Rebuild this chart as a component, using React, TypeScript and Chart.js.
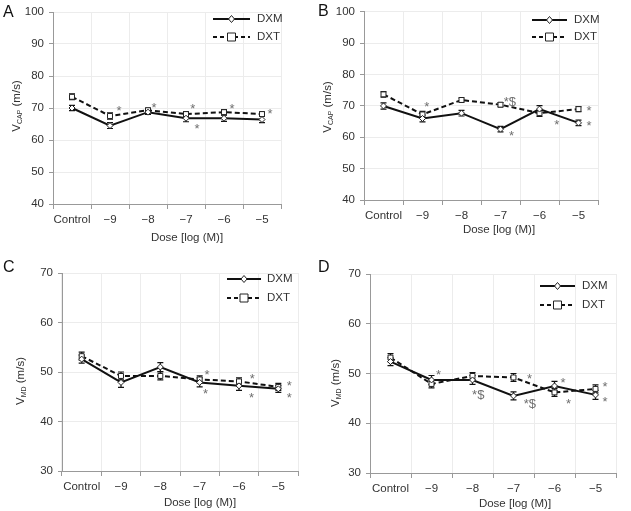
import React, { useEffect, useRef } from "react";
import { Chart, registerables } from "chart.js";

Chart.register(...registerables);

// ---------- DATA ----------
const categories = ["Control", "\u22129", "\u22128", "\u22127", "\u22126", "\u22125"];
const seriesNames = ["DXM", "DXT"];

const dxmA = [70.0, 64.5, 68.7, 66.8, 66.8, 66.4];
const dxtA = [73.5, 67.5, 69.3, 68.1, 68.7, 68.1];
const dxmErrA = [0.8, 0.9, 0.7, 1.1, 1.0, 1.0];
const dxtErrA = [0.9, 1.0, 0.7, 0.8, 0.8, 0.7];

const dxmB = [70.0, 66.0, 67.7, 62.6, 69.0, 64.6];
const dxtB = [73.7, 67.3, 71.9, 70.4, 67.7, 69.0];
const dxmErrB = [1.0, 1.1, 0.9, 0.9, 1.1, 0.9];
const dxtErrB = [0.9, 1.0, 0.7, 0.7, 1.0, 0.8];

const dxmC = [52.6, 47.9, 51.0, 47.9, 47.2, 46.6];
const dxtC = [53.2, 49.2, 49.2, 48.5, 48.1, 47.0];
const dxmErrC = [0.8, 1.0, 0.9, 0.9, 0.9, 0.7];
const dxtErrC = [0.8, 0.8, 0.8, 0.7, 0.7, 0.7];

const dxmD = [52.4, 48.7, 48.7, 45.5, 47.5, 45.7];
const dxtD = [53.2, 47.9, 49.5, 49.2, 46.2, 46.9];
const dxmErrD = [0.8, 0.9, 0.9, 0.8, 0.9, 0.9];
const dxtErrD = [0.8, 0.8, 0.7, 0.8, 0.8, 0.8];

// significance marks: x = category index (fractional), y = value
const marksA = [
  { x: 1.24, y: 70.0, t: "*" },
  { x: 2.16, y: 70.9, t: "*" },
  { x: 3.18, y: 70.6, t: "*" },
  { x: 3.29, y: 64.1, t: "*" },
  { x: 4.21, y: 70.6, t: "*" },
  { x: 5.21, y: 68.8, t: "*" },
];
const marksB = [
  { x: 1.11, y: 70.4, t: "*" },
  { x: 3.24, y: 72.0, t: "*$" },
  { x: 3.28, y: 61.3, t: "*" },
  { x: 4.44, y: 64.8, t: "*" },
  { x: 5.27, y: 69.05, t: "*" },
  { x: 5.27, y: 64.5, t: "*" },
];
const marksC = [
  { x: 3.19, y: 50.0, t: "*" },
  { x: 3.15, y: 46.0, t: "*" },
  { x: 4.34, y: 49.0, t: "*" },
  { x: 4.32, y: 45.3, t: "*" },
  { x: 5.28, y: 47.7, t: "*" },
  { x: 5.28, y: 45.2, t: "*" },
];
const marksD = [
  { x: 1.17, y: 50.2, t: "*" },
  { x: 2.14, y: 46.1, t: "*$" },
  { x: 3.39, y: 49.3, t: "*" },
  { x: 3.4, y: 44.3, t: "*$" },
  { x: 4.21, y: 48.5, t: "*" },
  { x: 4.34, y: 44.3, t: "*" },
  { x: 5.23, y: 47.7, t: "*" },
  { x: 5.23, y: 44.8, t: "*" },
];

const yTicksTop = [40, 100];
const yTicksBottom = [30, 70];

// ---------- LAYOUT ----------
const FONT = "'Liberation Sans', Arial, sans-serif";
const TEXT = "#333333";

type Mark = { x: number; y: number; t: string };
type PanelCfg = {
  letter: string;
  left: number;
  top: number;
  w: number;
  h: number;
  area: { l: number; t: number; r: number; b: number };
  range: number[];
  sub: string;
  dxm: number[];
  dxt: number[];
  dxmErr: number[];
  dxtErr: number[];
  marks: Mark[];
  letterPos: [number, number];
  legend: { x1: number; x2: number; y1: number; y2: number; tx: number };
  xTitle: [number, number];
  yTitle: [number, number];
};

const panels: PanelCfg[] = [
  {
    letter: "A", left: 0, top: 0, w: 315, h: 250,
    area: { l: 53, t: 12, r: 281, b: 204 }, range: yTicksTop, sub: "CAP",
    dxm: dxmA, dxt: dxtA, dxmErr: dxmErrA, dxtErr: dxtErrA, marks: marksA,
    letterPos: [3, 17], legend: { x1: 213, x2: 250, y1: 19, y2: 37, tx: 257 },
    xTitle: [187, 238], yTitle: [16, 106],
  },
  {
    letter: "B", left: 315, top: 0, w: 316, h: 250,
    area: { l: 49, t: 11, r: 283, b: 200 }, range: yTicksTop, sub: "CAP",
    dxm: dxmB, dxt: dxtB, dxmErr: dxmErrB, dxtErr: dxtErrB, marks: marksB,
    letterPos: [3, 16], legend: { x1: 217, x2: 252, y1: 20, y2: 37, tx: 259 },
    xTitle: [184, 230], yTitle: [12, 107],
  },
  {
    letter: "C", left: 0, top: 250, w: 315, h: 261,
    area: { l: 62, t: 23, r: 298, b: 221 }, range: yTicksBottom, sub: "MD",
    dxm: dxmC, dxt: dxtC, dxmErr: dxmErrC, dxtErr: dxtErrC, marks: marksC,
    letterPos: [3, 22], legend: { x1: 227, x2: 261, y1: 29, y2: 48, tx: 267 },
    xTitle: [200, 253], yTitle: [20, 131],
  },
  {
    letter: "D", left: 315, top: 250, w: 316, h: 261,
    area: { l: 55, t: 24, r: 301, b: 223 }, range: yTicksBottom, sub: "MD",
    dxm: dxmD, dxt: dxtD, dxmErr: dxmErrD, dxtErr: dxtErrD, marks: marksD,
    letterPos: [3, 22], legend: { x1: 225, x2: 260, y1: 36, y2: 55, tx: 267 },
    xTitle: [200, 254], yTitle: [20, 133],
  },
];

function drawMarker(ctx: CanvasRenderingContext2D, kind: string, x: number, y: number) {
  ctx.save();
  ctx.fillStyle = "#fff";
  ctx.strokeStyle = "#222";
  ctx.lineWidth = 1;
  ctx.setLineDash([]);
  ctx.beginPath();
  if (kind === "diamond") {
    ctx.moveTo(x, y - 3.5);
    ctx.lineTo(x + 3, y);
    ctx.lineTo(x, y + 3.5);
    ctx.lineTo(x - 3, y);
    ctx.closePath();
  } else {
    ctx.rect(x - 4, y - 4, 8, 8);
  }
  ctx.fill();
  ctx.stroke();
  ctx.restore();
}

function Panel({ cfg }: { cfg: PanelCfg }) {
  const ref = useRef<HTMLCanvasElement | null>(null);
  useEffect(() => {
    const canvas = ref.current;
    if (!canvas) return;
    const errs = [cfg.dxmErr, cfg.dxtErr];

    const deco = {
      id: "deco",
      beforeDatasetsDraw(chart: any) {
        const ctx = chart.ctx as CanvasRenderingContext2D;
        const xs = chart.scales.x;
        const ys = chart.scales.y;
        ctx.save();
        ctx.strokeStyle = "#111";
        ctx.lineWidth = 1.2;
        ctx.setLineDash([]);
        chart.data.datasets.forEach((ds: any, di: number) => {
          ds.data.forEach((v: number, i: number) => {
            const e = errs[di][i];
            const x = xs.getPixelForValue(i);
            const y1 = ys.getPixelForValue(v - e);
            const y2 = ys.getPixelForValue(v + e);
            ctx.beginPath();
            ctx.moveTo(x, y1);
            ctx.lineTo(x, y2);
            ctx.moveTo(x - 3, y1);
            ctx.lineTo(x + 3, y1);
            ctx.moveTo(x - 3, y2);
            ctx.lineTo(x + 3, y2);
            ctx.stroke();
          });
        });
        ctx.restore();
      },
      afterDraw(chart: any) {
        const ctx = chart.ctx as CanvasRenderingContext2D;
        const xs = chart.scales.x;
        const ys = chart.scales.y;
        ctx.save();
        // significance marks
        ctx.fillStyle = "#6f6f6f";
        ctx.font = `13px ${FONT}`;
        ctx.textAlign = "center";
        ctx.textBaseline = "alphabetic";
        cfg.marks.forEach((m) => {
          const px = xs.getPixelForValue(m.x);
          const py = ys.getPixelForValue(m.y);
          ctx.fillText(m.t, px, py + 6.5);
        });
        // panel letter
        ctx.fillStyle = "#111";
        ctx.font = `16px ${FONT}`;
        ctx.textAlign = "left";
        ctx.fillText(cfg.letter, cfg.letterPos[0], cfg.letterPos[1]);
        // x title
        ctx.fillStyle = TEXT;
        ctx.font = `11.5px ${FONT}`;
        ctx.textAlign = "center";
        ctx.textBaseline = "middle";
        ctx.fillText("Dose [log (M)]", cfg.xTitle[0], cfg.xTitle[1]);
        // y title with subscript
        ctx.save();
        ctx.translate(cfg.yTitle[0], cfg.yTitle[1]);
        ctx.rotate(-Math.PI / 2);
        ctx.textAlign = "left";
        ctx.textBaseline = "alphabetic";
        const big = `11.5px ${FONT}`;
        const small = `7px ${FONT}`;
        ctx.font = big;
        const wV = ctx.measureText("V").width;
        const wRest = ctx.measureText(" (m/s)").width;
        ctx.font = small;
        const wSub = ctx.measureText(cfg.sub).width;
        const total = wV + wSub + wRest;
        let x0 = -total / 2;
        const base = 4;
        ctx.font = big;
        ctx.fillText("V", x0, base);
        x0 += wV;
        ctx.font = small;
        ctx.fillText(cfg.sub, x0, base + 2);
        x0 += wSub;
        ctx.font = big;
        ctx.fillText(" (m/s)", x0, base);
        ctx.restore();
        // legend
        const lg = cfg.legend;
        const mid = (lg.x1 + lg.x2) / 2;
        ctx.strokeStyle = "#111";
        ctx.lineWidth = 2;
        ctx.setLineDash([]);
        ctx.beginPath();
        ctx.moveTo(lg.x1, lg.y1);
        ctx.lineTo(lg.x2, lg.y1);
        ctx.stroke();
        drawMarker(ctx, "diamond", mid, lg.y1);
        ctx.strokeStyle = "#111";
        ctx.lineWidth = 2;
        ctx.setLineDash([4, 3]);
        ctx.beginPath();
        ctx.moveTo(lg.x1, lg.y2);
        ctx.lineTo(lg.x2, lg.y2);
        ctx.stroke();
        ctx.setLineDash([]);
        drawMarker(ctx, "square", mid, lg.y2);
        ctx.fillStyle = TEXT;
        ctx.font = `11.5px ${FONT}`;
        ctx.textAlign = "left";
        ctx.textBaseline = "middle";
        ctx.fillText(seriesNames[0], lg.tx, lg.y1);
        ctx.fillText(seriesNames[1], lg.tx, lg.y2);
        ctx.restore();
      },
    };

    const a = cfg.area;
    const chart = new Chart(canvas, {
      type: "line",
      data: {
        labels: categories,
        datasets: [
          {
            label: seriesNames[0],
            data: cfg.dxm,
            borderColor: "#111",
            borderWidth: 2,
            pointStyle: "rectRot",
            pointRadius: 3,
            pointBackgroundColor: "#fff",
            pointBorderColor: "#222",
            pointBorderWidth: 1,
            tension: 0,
          },
          {
            label: seriesNames[1],
            data: cfg.dxt,
            borderColor: "#111",
            borderWidth: 2,
            borderDash: [5, 3],
            pointStyle: "rect",
            pointRadius: 3.5,
            pointBackgroundColor: "#fff",
            pointBorderColor: "#222",
            pointBorderWidth: 1,
            tension: 0,
          },
        ],
      },
      options: {
        responsive: false,
        animation: false,
        devicePixelRatio: 1,
        layout: { padding: { left: 0, top: a.t, right: cfg.w - a.r, bottom: 0 } },
        plugins: { legend: { display: false }, tooltip: { enabled: false }, title: { display: false } },
        scales: {
          x: {
            type: "category",
            offset: true,
            grid: { offset: true, color: "#ececec", tickColor: "#999", tickLength: 5, drawTicks: true },
            border: { color: "#999", width: 1 },
            ticks: { color: TEXT, font: { family: FONT, size: 11.5 }, padding: 4, maxRotation: 0, autoSkip: false },
            afterFit: (s: any) => { s.height = cfg.h - a.b; },
          },
          y: {
            min: cfg.range[0],
            max: cfg.range[1],
            ticks: { stepSize: 10, color: TEXT, font: { family: FONT, size: 11.5 }, padding: 5 },
            grid: { color: "#ececec", tickColor: "#999", tickLength: 4 },
            border: { color: "#999", width: 1 },
            afterFit: (s: any) => { s.width = a.l; },
          },
        },
      },
      plugins: [deco],
    } as any);
    return () => chart.destroy();
  }, [cfg]);
  return (
    <canvas
      ref={ref}
      width={cfg.w}
      height={cfg.h}
      style={{ position: "absolute", left: cfg.left, top: cfg.top, width: cfg.w, height: cfg.h }}
    />
  );
}

export default function App() {
  return (
    <div style={{ position: "fixed", left: 0, top: 0, width: 631, height: 511, background: "#fff", overflow: "hidden" }}>
      {panels.map((p) => (
        <Panel key={p.letter} cfg={p} />
      ))}
    </div>
  );
}
